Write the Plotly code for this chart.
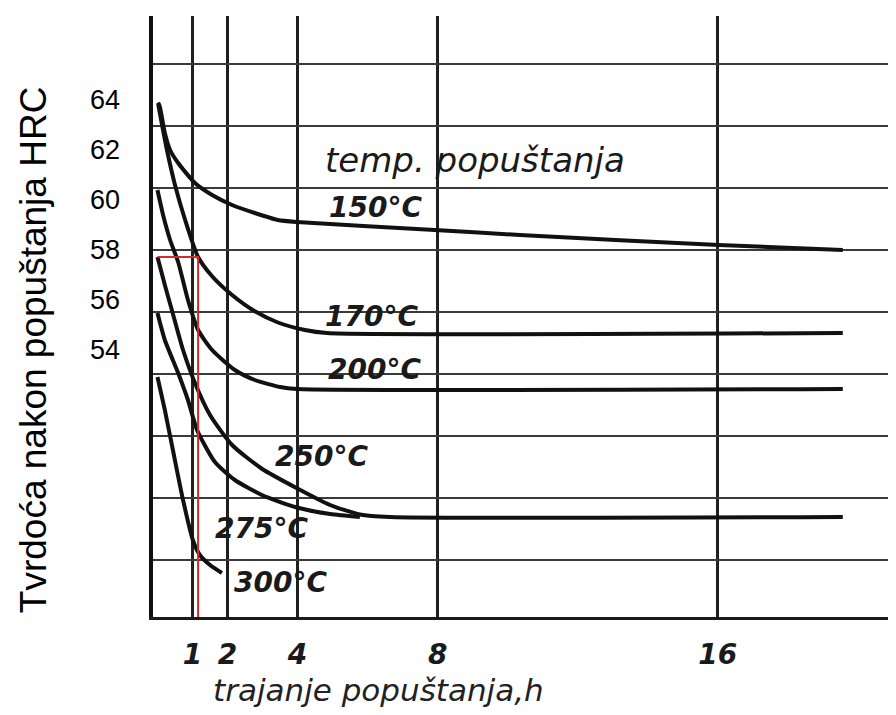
import plotly.graph_objects as go

# ---- data (hours, HRC) ----
h_150 = [0.02, 0.07, 0.21, 0.36, 0.59, 1.07, 1.56, 2.13, 2.78, 3.44, 3.98, 7.92, 10.35, 16.03, 19.57]
hrc_150 = [63.9, 63.72, 62.68, 62.0, 61.48, 60.68, 60.2, 59.8, 59.48, 59.2, 59.12, 58.8, 58.6, 58.2, 58.0]

h_170 = [0.02, 0.13, 0.27, 0.5, 0.79, 1.16, 1.56, 2.13, 2.78, 3.44, 4.21, 4.84, 19.57]
hrc_170 = [63.84, 63.0, 62.0, 60.6, 59.2, 57.72, 56.95, 56.2, 55.55, 55.1, 54.8, 54.68, 54.68]

h_200 = [0.0, 0.16, 0.36, 0.59, 0.87, 1.16, 1.56, 2.21, 2.78, 3.5, 3.98, 19.57]
hrc_200 = [60.4, 59.4, 58.4, 57.52, 56.0, 54.8, 54.0, 53.2, 52.8, 52.52, 52.44, 52.44]

h_250 = [0.0, 0.21, 0.41, 0.73, 1.07, 1.5, 2.13, 2.98, 4.01, 4.93, 5.78, 6.64, 19.57]
hrc_250 = [57.72, 56.6, 55.6, 54.0, 52.68, 51.4, 50.2, 49.25, 48.45, 47.8, 47.42, 47.32, 47.32]

h_275 = [0.0, 0.21, 0.59, 0.87, 1.13, 1.64, 2.21, 2.98, 3.93, 4.93, 5.78]
hrc_275 = [55.48, 54.4, 53.08, 52.0, 50.8, 49.52, 48.8, 48.2, 47.72, 47.44, 47.32]

h_300 = [0.0, 0.21, 0.44, 0.73, 1.01, 1.21, 1.5, 1.84]
hrc_300 = [52.92, 51.6, 50.0, 48.0, 46.4, 45.8, 45.4, 45.08]

red_h = [0.0, 1.16, 1.16]
red_hrc = [57.72, 57.72, 43.32]

x_ticks = [1, 2, 4, 8, 16]
y_ticks = [54, 56, 58, 60, 62, 64]
y_tick_text = ["54", "56", "58", "60", "62", "64"]

curve_labels = ["150°C", "170°C", "200°C", "250°C", "275°C", "300°C"]
label_h = [6.24, 6.12, 6.21, 4.67, 2.98, 3.5]
label_hrc = [59.72, 55.36, 53.24, 49.76, 46.88, 44.72]

X_RANGE = [-0.128, 21.09]
Y_RANGE = [43.32, 67.36]

fig = go.Figure()
curves = [(h_150, hrc_150), (h_170, hrc_170), (h_200, hrc_200),
          (h_250, hrc_250), (h_275, hrc_275), (h_300, hrc_300)]
for (hx, hy), name in zip(curves, curve_labels):
    fig.add_trace(go.Scatter(x=hx, y=hy, mode="lines", name=name,
                             line=dict(color="#111111", width=4, shape="spline", smoothing=0.6),
                             showlegend=False, hoverinfo="skip"))

fig.add_trace(go.Scatter(x=red_h, y=red_hrc, mode="lines", yaxis="y2",
                         line=dict(color="#d42a2a", width=2),
                         showlegend=False, hoverinfo="skip"))

ital = dict(family="DejaVu Sans", style="italic", color="#1a1a1a")

annotations = [
    dict(x=9.07, y=61.6, xref="x", yref="y", text="temp. popuštanja", showarrow=False,
         font=dict(size=34, **ital)),
]
for t, lx, ly in zip(curve_labels, label_h, label_hrc):
    annotations.append(dict(x=lx, y=ly, xref="x", yref="y", text=t, showarrow=False,
                            font=dict(size=28, weight="bold", **ital)))
annotations.append(dict(x=0.303, y=-0.122, xref="paper", yref="paper",
                        text="trajanje popuštanja,h", showarrow=False,
                        xanchor="center", yanchor="middle",
                        font=dict(size=31, family="DejaVu Sans", style="italic", color="#222222")))
annotations.append(dict(x=-0.1615, y=0.444, xref="paper", yref="paper",
                        text="Tvrdoća nakon popuštanja HRC", showarrow=False, textangle=-90,
                        xanchor="center", yanchor="middle",
                        font=dict(size=37, family="Liberation Sans", color="#000000")))

fig.update_layout(
    width=888, height=707,
    margin=dict(l=145, r=0, t=8, b=98, autoexpand=False),
    plot_bgcolor="white", paper_bgcolor="white",
    xaxis=dict(range=X_RANGE, tickvals=x_ticks, ticktext=[str(v) for v in x_ticks],
               showgrid=True, gridcolor="#1f1f1f", gridwidth=2.5, automargin=False,
               showline=True, linecolor="#1a1a1a", linewidth=3, zeroline=False,
               ticks="", ticklabelstandoff=10,
               tickfont=dict(size=28, weight="bold", **ital)),
    yaxis=dict(range=Y_RANGE, tick0=58, dtick=2.48, showgrid=True, gridcolor="#3a3a3a",
               gridwidth=2, showticklabels=False, showline=True, linecolor="#111111",
               linewidth=4, zeroline=False, ticks="", automargin=False),
    yaxis2=dict(range=Y_RANGE, overlaying="y", side="left", tickvals=y_ticks,
                ticktext=y_tick_text, showgrid=False, zeroline=False, showline=False,
                ticks="", ticklabelstandoff=32, automargin=False,
                tickfont=dict(size=27, family="Liberation Sans", color="#000000")),
    annotations=annotations,
)

fig.write_html("out.html")
